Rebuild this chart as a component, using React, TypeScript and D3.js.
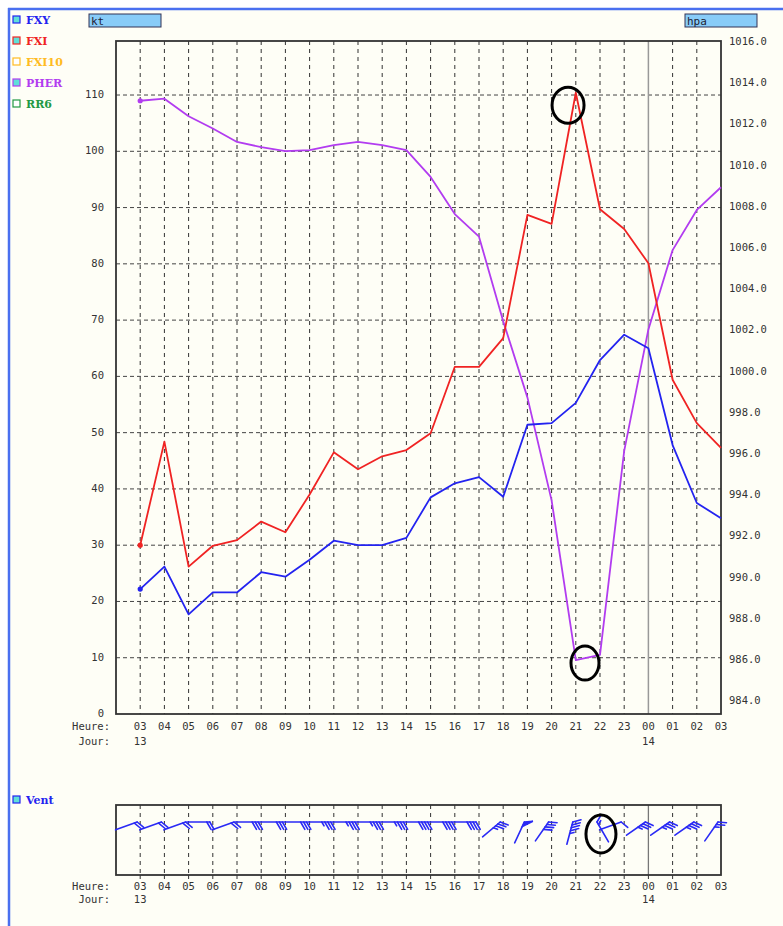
import React, { useEffect, useRef } from "react";
import * as d3 from "d3";

// ---------- data ----------
const HOURS = ["03","04","05","06","07","08","09","10","11","12","13","14","15","16","17","18","19","20","21","22","23","00","01","02","03"];
const DAYS = [ { i: 0, label: "13" }, { i: 21, label: "14" } ];
const FXY = [22.2,26.2,17.7,21.6,21.6,25.2,24.4,27.4,30.8,30.0,30.0,31.3,38.5,41.0,42.1,38.6,51.4,51.7,55.3,62.9,67.4,65.0,47.8,37.5,34.8];
const FXI = [30.0,48.4,26.2,29.9,30.9,34.2,32.3,39.0,46.5,43.5,45.8,46.9,49.9,61.7,61.7,66.8,88.7,87.1,110.4,89.7,86.2,80.1,59.4,51.7,47.3];
const PMER = [1013.1,1013.2,1012.35,1011.75,1011.1,1010.85,1010.65,1010.7,1010.95,1011.1,1010.95,1010.7,1009.4,1007.6,1006.5,1002.4,998.7,993.7,985.95,986.2,996.1,1002.0,1005.85,1007.8,1008.9];
const WIND_DIR = [70,70,70,90,70,90,90,90,90,90,90,90,90,90,90,50,25,35,15,330,70,55,55,55,35];
const WIND_KT = [20,20,20,20,20,30,30,30,35,35,35,35,40,40,40,35,50,40,45,15,10,35,35,35,25];
const LEFT_TICKS = [0,10,20,30,40,50,60,70,80,90,100,110];
const RIGHT_TICKS = [984,986,988,990,992,994,996,998,1000,1002,1004,1006,1008,1010,1012,1014,1016];
const LEGEND = [
  { name: "FXY", color: "#2323f0", on: true },
  { name: "FXI", color: "#f02323", on: true },
  { name: "FXI10", color: "#ffbb22", on: false },
  { name: "PHER", color: "#b23cf0", on: true },
  { name: "RR6", color: "#229944", on: false },
];
const MARKS = [
  { panel: "kt", idx: 17.68, value: 108.2, rx: 16, ry: 18 },
  { panel: "hpa", idx: 18.38, value: 985.8, rx: 14, ry: 17 },
  { panel: "wind", idx: 19.04, value: 0, rx: 15, ry: 19 },
];

const MONO = "'DejaVu Sans Mono', monospace";
const SERIF = "'DejaVu Serif', serif";

export default function App() {
  const ref = useRef<SVGSVGElement>(null);
  useEffect(() => {
    const svg = d3.select(ref.current);
    svg.selectAll("*").remove();
    const W = 783, H = 926;
    const L = 116, R = 721, T = 41, B = 714;
    const WT = 805, WB = 875, WY = 822;

    const x = d3.scaleLinear().domain([-1, 24]).range([L, R]);
    const yL = d3.scaleLinear().domain([0, (B - T) / 5.627]).range([B, T]);
    const yR = d3.scaleLinear().domain([986 - (B - 659) / 20.6, 986 + (659 - T) / 20.6]).range([B, T]);

    // background
    svg.append("rect").attr("width", W).attr("height", H).attr("fill", "#ffffff");
    svg.append("rect").attr("x", 9).attr("y", 9).attr("width", W - 9).attr("height", H - 9).attr("fill", "#fefef6");
    svg.append("line").attr("x1", 8).attr("x2", W).attr("y1", 9).attr("y2", 9).attr("stroke", "#4a6ff0").attr("stroke-width", 2.5);
    svg.append("line").attr("x1", 9).attr("x2", 9).attr("y1", 8).attr("y2", H).attr("stroke", "#4a6ff0").attr("stroke-width", 2.5);

    // legend
    LEGEND.forEach((d, i) => {
      const cy = 20 + i * 21;
      svg.append("rect").attr("x", 13).attr("y", cy - 4).attr("width", 7).attr("height", 7)
        .attr("fill", d.on ? "#5fe0d8" : "#ffffff").attr("stroke", d.color).attr("stroke-width", 1.2);
      svg.append("text").attr("x", 26).attr("y", cy + 4).text(d.name)
        .attr("font-family", SERIF).attr("font-weight", "bold").attr("font-size", 11).attr("fill", d.color);
    });

    // unit boxes
    [{ x0: 89, t: "kt" }, { x0: 685, t: "hpa" }].forEach((b) => {
      svg.append("rect").attr("x", b.x0).attr("y", 14).attr("width", 72).attr("height", 13)
        .attr("fill", "#88ccf8").attr("stroke", "#335").attr("stroke-width", 1);
      svg.append("text").attr("x", b.x0 + 2).attr("y", 25).text(b.t)
        .attr("font-family", MONO).attr("font-size", 11).attr("fill", "#223");
    });

    // main grid
    const g = svg.append("g");
    LEFT_TICKS.filter((v) => v > 0).forEach((v) => {
      g.append("line").attr("x1", L).attr("x2", R).attr("y1", yL(v)).attr("y2", yL(v))
        .attr("stroke", "#444").attr("stroke-dasharray", "4,3").attr("stroke-width", 1);
    });
    HOURS.forEach((h, i) => {
      if (i === 24) return;
      if (i === 21) {
        g.append("line").attr("x1", x(i)).attr("x2", x(i)).attr("y1", T).attr("y2", B)
          .attr("stroke", "#999").attr("stroke-width", 1.5);
      } else {
        g.append("line").attr("x1", x(i)).attr("x2", x(i)).attr("y1", T).attr("y2", B)
          .attr("stroke", "#333").attr("stroke-dasharray", "4,4").attr("stroke-width", 1);
      }
    });
    g.append("rect").attr("x", L).attr("y", T).attr("width", R - L).attr("height", B - T)
      .attr("fill", "none").attr("stroke", "#333").attr("stroke-width", 1.8);

    // axis labels
    LEFT_TICKS.forEach((v) => {
      svg.append("text").attr("x", 104).attr("y", yL(v) + 3).attr("text-anchor", "end").text(String(v))
        .attr("font-family", MONO).attr("font-size", 10.5).attr("fill", "#333");
    });
    RIGHT_TICKS.forEach((v) => {
      svg.append("text").attr("x", 729).attr("y", yR(v) + 4).text(v.toFixed(1))
        .attr("font-family", MONO).attr("font-size", 10.5).attr("fill", "#333");
    });

    const timeAxis = (yH: number, yJ: number) => {
      svg.append("text").attr("x", 110).attr("y", yH).attr("text-anchor", "end").text("Heure:")
        .attr("font-family", MONO).attr("font-size", 10.5).attr("fill", "#333");
      svg.append("text").attr("x", 110).attr("y", yJ).attr("text-anchor", "end").text("Jour:")
        .attr("font-family", MONO).attr("font-size", 10.5).attr("fill", "#333");
      HOURS.forEach((h, i) => {
        svg.append("text").attr("x", x(i)).attr("y", yH).attr("text-anchor", "middle").text(h)
          .attr("font-family", MONO).attr("font-size", 10.5).attr("fill", "#333");
      });
      DAYS.forEach((d) => {
        svg.append("text").attr("x", x(d.i)).attr("y", yJ).attr("text-anchor", "middle").text(d.label)
          .attr("font-family", MONO).attr("font-size", 10.5).attr("fill", "#333");
      });
    };
    timeAxis(730, 745);

    // series
    const lineL = d3.line<number>().x((_, i) => x(i)).y((v) => yL(v));
    const lineR = d3.line<number>().x((_, i) => x(i)).y((v) => yR(v));
    const series = [
      { data: PMER, gen: lineR, y: yR, color: "#b23cf0" },
      { data: FXI, gen: lineL, y: yL, color: "#f02323" },
      { data: FXY, gen: lineL, y: yL, color: "#2323f0" },
    ];
    series.forEach((s) => {
      svg.append("path").attr("d", s.gen(s.data) as string).attr("fill", "none")
        .attr("stroke", s.color).attr("stroke-width", 1.8).attr("stroke-linejoin", "round");
      svg.append("circle").attr("cx", x(0)).attr("cy", s.y(s.data[0])).attr("r", 2.6).attr("fill", s.color);
    });

    // wind panel
    svg.append("rect").attr("x", 13).attr("y", 796).attr("width", 7).attr("height", 7)
      .attr("fill", "#5fe0d8").attr("stroke", "#2323f0").attr("stroke-width", 1.2);
    svg.append("text").attr("x", 26).attr("y", 804).text("Vent")
      .attr("font-family", SERIF).attr("font-weight", "bold").attr("font-size", 11).attr("fill", "#2323f0");
    HOURS.forEach((h, i) => {
      if (i === 24) return;
      if (i === 21) {
        svg.append("line").attr("x1", x(i)).attr("x2", x(i)).attr("y1", WT).attr("y2", WB)
          .attr("stroke", "#777").attr("stroke-width", 1.3);
      } else {
        svg.append("line").attr("x1", x(i)).attr("x2", x(i)).attr("y1", WT).attr("y2", WB)
          .attr("stroke", "#333").attr("stroke-dasharray", "4,4").attr("stroke-width", 1);
      }
      svg.append("line").attr("x1", x(i)).attr("x2", x(i)).attr("y1", WB).attr("y2", WB + 4)
        .attr("stroke", "#333").attr("stroke-width", 1);
    });
    svg.append("rect").attr("x", L).attr("y", WT).attr("width", R - L).attr("height", WB - WT)
      .attr("fill", "none").attr("stroke", "#333").attr("stroke-width", 1.8);
    timeAxis(890, 903);

    // wind barbs
    const wb = svg.append("g").attr("stroke", "#2a2af5").attr("fill", "#2a2af5").attr("stroke-width", 1.6)
      .attr("stroke-linecap", "round");
    WIND_DIR.forEach((dir, i) => {
      const rad = (dir * Math.PI) / 180;
      const sx = Math.sin(rad), sy = -Math.cos(rad);
      const hx = x(i) - 3, hy = WY;
      const len = 23;
      const tx = hx - len * sx, ty = hy - len * sy;
      wb.append("line").attr("x1", tx).attr("y1", ty).attr("x2", hx).attr("y2", hy);
      const a = Math.PI / 3;
      const fx = sx * Math.cos(a) - sy * Math.sin(a);
      const fy = sx * Math.sin(a) + sy * Math.cos(a);
      let kt = WIND_KT[i];
      let pos = 0;
      const flen = 8.5;
      while (kt >= 50) {
        const p1x = hx - pos * sx, p1y = hy - pos * sy;
        const p2x = hx - (pos + 5) * sx, p2y = hy - (pos + 5) * sy;
        wb.append("path").attr("d", `M${p1x},${p1y}L${p1x + flen * fx},${p1y + flen * fy}L${p2x},${p2y}Z`);
        pos += 6;
        kt -= 50;
      }
      while (kt >= 10) {
        const px = hx - pos * sx, py = hy - pos * sy;
        wb.append("line").attr("x1", px).attr("y1", py).attr("x2", px + flen * fx).attr("y2", py + flen * fy);
        pos += 3;
        kt -= 10;
      }
      if (kt >= 5) {
        if (pos === 0) pos = 3;
        const px = hx - pos * sx, py = hy - pos * sy;
        wb.append("line").attr("x1", px).attr("y1", py).attr("x2", px + 4.5 * fx).attr("y2", py + 4.5 * fy);
      }
    });

    // annotation ellipses
    MARKS.forEach((m) => {
      const cy = m.panel === "kt" ? yL(m.value) : m.panel === "hpa" ? yR(m.value) : (WT + WB) / 2 - 6;
      svg.append("ellipse").attr("cx", x(m.idx)).attr("cy", cy).attr("rx", m.rx).attr("ry", m.ry)
        .attr("fill", "none").attr("stroke", "#000").attr("stroke-width", 3);
    });
  }, []);
  return (
    <svg ref={ref} width={783} height={926}
      style={{ position: "absolute", left: 0, top: 0, display: "block" }} />
  );
}
